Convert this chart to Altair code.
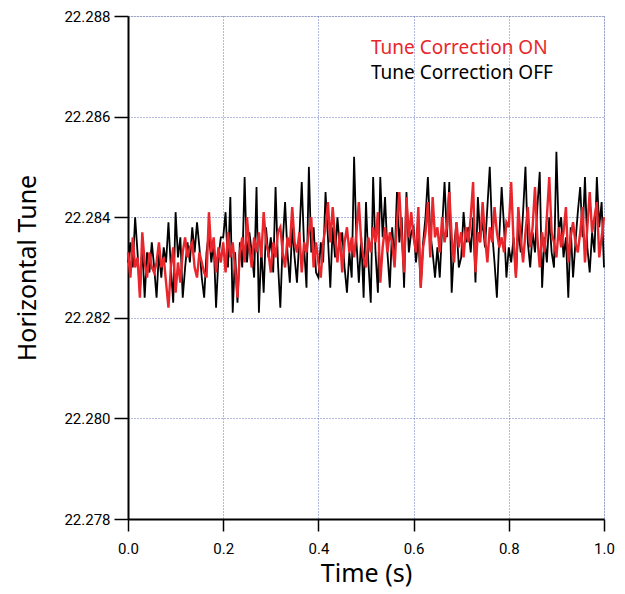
import altair as alt
import pandas as pd

# Tune values in units of 1e-4 above 22.28 (e.g. 33 -> 22.2833), one sample every 5 ms
black_units = [
    31, 35, 30, 40, 33, 25, 34, 24, 33, 29, 35, 30, 24, 33, 28, 34, 31, 39, 30, 23,
    41, 32, 36, 24, 30, 35, 31, 38, 33, 39, 34, 28, 24, 33, 37, 31, 35, 22, 32, 36,
    36, 41, 30, 44, 21, 33, 23, 35, 30, 48, 31, 37, 33, 28, 46, 21, 34, 25, 38, 32,
    36, 29, 46, 31, 22, 35, 43, 33, 27, 38, 32, 27, 36, 47, 34, 26, 50, 33, 38, 29,
    28, 35, 31, 45, 36, 26, 38, 32, 40, 34, 37, 30, 25, 33, 28, 52, 35, 27, 36, 24,
    43, 31, 23, 48, 33, 25, 48, 36, 44, 33, 26, 38, 31, 45, 35, 40, 26, 45, 33, 37,
    38, 31, 36, 26, 35, 40, 48, 37, 33, 28, 34, 28, 38, 47, 36, 47, 25, 34, 39, 30,
    32, 41, 35, 38, 33, 40, 27, 44, 36, 39, 34, 42, 50, 37, 31, 24, 36, 46, 38, 28,
    34, 31, 36, 28, 38, 33, 41, 50, 35, 30, 37, 33, 42, 49, 26, 36, 31, 40, 33, 30,
    53, 37, 40, 32, 36, 24, 38, 28, 35, 41, 46, 36, 48, 34, 29, 37, 33, 48, 38, 43,
    30,
]
red_units = [
    33, 28, 36, 30, 32, 24, 37, 31, 28, 33, 30, 29, 31, 35, 30, 32, 27, 22, 30, 34,
    25, 31, 27, 33, 36, 32, 34, 35, 30, 28, 33, 31, 29, 28, 41, 33, 36, 29, 34, 31,
    35, 29, 37, 32, 35, 30, 24, 33, 36, 31, 40, 34, 30, 36, 33, 37, 32, 41, 35, 33,
    29, 35, 32, 37, 38, 33, 30, 36, 34, 42, 35, 33, 37, 29, 35, 33, 37, 40, 30, 35,
    31, 28, 35, 38, 43, 35, 42, 36, 31, 37, 29, 35, 38, 33, 36, 32, 37, 43, 35, 32,
    30, 36, 33, 38, 35, 41, 27, 34, 38, 33, 37, 35, 30, 39, 45, 36, 29, 44, 36, 41,
    36, 33, 42, 26, 34, 37, 43, 32, 44, 36, 38, 33, 40, 35, 38, 45, 36, 31, 39, 34,
    37, 32, 38, 35, 40, 47, 29, 37, 35, 43, 36, 31, 38, 35, 42, 37, 34, 36, 33, 39,
    38, 47, 35, 28, 42, 36, 31, 37, 42, 34, 38, 46, 36, 30, 37, 33, 40, 48, 37, 35,
    32, 38, 34, 37, 42, 31, 36, 39, 35, 33, 37, 42, 31, 38, 45, 37, 40, 43, 32, 36,
    40,
]
dt = 0.005
base = 22.28
y_ticks = [22.278, 22.280, 22.282, 22.284, 22.286, 22.288]
x_ticks = [0.0, 0.2, 0.4, 0.6, 0.8, 1.0]
legend_labels = ["Tune Correction ON", "Tune Correction OFF"]
RED = "#e8262c"

rows = []
for i, u in enumerate(black_units):
    rows.append({"t": i * dt, "tune": base + u / 10000, "series": "OFF", "order": i})
for i, u in enumerate(red_units):
    rows.append({"t": i * dt, "tune": base + u / 10000, "series": "ON", "order": i})
df = pd.DataFrame(rows)

W, H = 476, 503
grid_color = "#5566c0"

x_enc = alt.X(
    "t:Q",
    scale=alt.Scale(domain=[0, 1], nice=False),
    axis=alt.Axis(
        values=x_ticks, format=".1f", title="Time (s)", labelFlush=False,
        grid=True, gridColor=grid_color, gridDash=[1, 2], gridWidth=1, gridOpacity=0.9,
        domainColor="black", domainWidth=2, tickColor="black", tickWidth=1.5, tickSize=12,
        labelFont="Roboto", labelFontSize=15, labelColor="black", labelPadding=10,
        titleFont="Noto Sans", titleFontSize=25, titleFontWeight="normal", titleColor="black",
        titlePadding=5,
    ),
)
y_enc = alt.Y(
    "tune:Q",
    scale=alt.Scale(domain=[22.278, 22.288], nice=False, zero=False),
    axis=alt.Axis(
        values=y_ticks, format=".3f", title="Horizontal Tune", labelFlush=False,
        grid=True, gridColor=grid_color, gridDash=[1, 2], gridWidth=1, gridOpacity=0.9,
        domainColor="black", domainWidth=2, tickColor="black", tickWidth=1.5, tickSize=14,
        labelFont="Roboto", labelFontSize=15, labelColor="black", labelPadding=4,
        titleFont="Noto Sans", titleFontSize=25, titleFontWeight="normal", titleColor="black",
        titlePadding=23,
    ),
)

off_line = alt.Chart(df).transform_filter(alt.datum.series == "OFF").mark_line(
    color="black", strokeWidth=1.8
).encode(x=x_enc, y=y_enc, order="order:Q")

on_line = alt.Chart(df).transform_filter(alt.datum.series == "ON").mark_line(
    color=RED, strokeWidth=2.4
).encode(x="t:Q", y="tune:Q", order="order:Q")

leg_df = pd.DataFrame({"label": legend_labels, "row": [0, 1]})
legend_on = alt.Chart(leg_df).transform_filter(alt.datum.row == 0).mark_text(
    align="left", baseline="alphabetic", font="Noto Sans", fontSize=19, color=RED
).encode(x=alt.value(243), y=alt.value(38), text="label:N")
legend_off = alt.Chart(leg_df).transform_filter(alt.datum.row == 1).mark_text(
    align="left", baseline="alphabetic", font="Noto Sans", fontSize=19, color="black"
).encode(x=alt.value(243), y=alt.value(63), text="label:N")

chart = alt.layer(off_line, on_line, legend_on, legend_off).properties(
    width=W, height=H,
    autosize=alt.AutoSizeParams(type="none"),
    padding={"left": 120, "top": 8, "right": 13, "bottom": 70},
).configure_view(stroke=None).configure(background="white")

chart.save("out.html", embed_options={"renderer": "svg", "actions": False})
